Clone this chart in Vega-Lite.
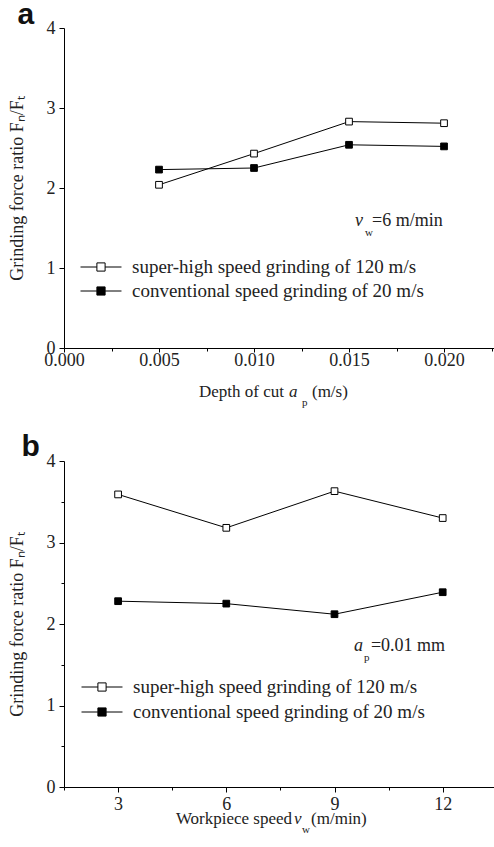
{
  "$schema": "https://vega.github.io/schema/vega-lite/v6.json",
  "padding": {"left": 8, "top": 0, "right": 0, "bottom": 0},
  "bounds": "flush",
  "spacing": 113,
  "config": {
    "view": {"stroke": null},
    "font": "Liberation Serif",
    "style": {"guide-label": {"font": "Liberation Serif"}, "guide-title": {"font": "Liberation Serif"}},
    "axis": {"domainColor": "#000", "tickColor": "#000", "labelColor": "#222", "titleColor": "#222", "labelFont": "Liberation Serif", "titleFont": "Liberation Serif", "labelFontSize": 18, "titleFontSize": 18, "titleFontWeight": "normal", "grid": false, "domainWidth": 1, "tickWidth": 1, "labelFlush": false, "labelOverlap": false}
  },
  "datasets": {
    "top": [
      {"x": 0.005, "y": 2.04, "series": "super-high speed grinding of 120 m/s"},
      {"x": 0.010, "y": 2.43, "series": "super-high speed grinding of 120 m/s"},
      {"x": 0.015, "y": 2.83, "series": "super-high speed grinding of 120 m/s"},
      {"x": 0.020, "y": 2.81, "series": "super-high speed grinding of 120 m/s"},
      {"x": 0.005, "y": 2.23, "series": "conventional speed grinding of 20 m/s"},
      {"x": 0.010, "y": 2.25, "series": "conventional speed grinding of 20 m/s"},
      {"x": 0.015, "y": 2.54, "series": "conventional speed grinding of 20 m/s"},
      {"x": 0.020, "y": 2.52, "series": "conventional speed grinding of 20 m/s"}
    ],
    "bottom": [
      {"x": 3, "y": 3.59, "series": "super-high speed grinding of 120 m/s"},
      {"x": 6, "y": 3.18, "series": "super-high speed grinding of 120 m/s"},
      {"x": 9, "y": 3.63, "series": "super-high speed grinding of 120 m/s"},
      {"x": 12, "y": 3.30, "series": "super-high speed grinding of 120 m/s"},
      {"x": 3, "y": 2.28, "series": "conventional speed grinding of 20 m/s"},
      {"x": 6, "y": 2.25, "series": "conventional speed grinding of 20 m/s"},
      {"x": 9, "y": 2.12, "series": "conventional speed grinding of 20 m/s"},
      {"x": 12, "y": 2.39, "series": "conventional speed grinding of 20 m/s"}
    ]
  },
  "resolve": {"scale": {"x": "independent", "y": "independent", "fill": "independent"}, "legend": {"fill": "independent"}},
  "vconcat": [
    {
      "width": 430,
      "height": 320,
      "data": {"name": "top"},
      "layer": [
        {
          "mark": {"type": "line", "color": "#000", "strokeWidth": 1},
          "encoding": {
            "x": {"field": "x", "type": "quantitative", "scale": {"domain": [0, 0.02263], "nice": false, "zero": false},
              "axis": {"values": [0, 0.0025, 0.005, 0.0075, 0.01, 0.0125, 0.015, 0.0175, 0.02, 0.0225],
                "labelExpr": "abs(datum.value*200 - round(datum.value*200)) > 0.01 ? '' : format(datum.value, '.3f')",
                "tickSize": {"condition": {"test": "abs(datum.value*200 - round(datum.value*200)) > 0.01", "value": 3}, "value": 4},
                "labelPadding": -1, "labelFont": "Liberation Serif", "labelFontSize": 18, "title": null}},
            "y": {"field": "y", "type": "quantitative", "scale": {"domain": [0, 4], "nice": false},
              "axis": {"values": [0, 0.5, 1, 1.5, 2, 2.5, 3, 3.5, 4],
                "labelExpr": "datum.value % 1 == 0 ? format(datum.value, 'd') : ''",
                "tickSize": {"condition": {"test": "datum.value % 1 != 0", "value": 3}, "value": 5},
                "labelPadding": 4, "labelFont": "Liberation Serif", "labelFontSize": 18, "title": "Grinding force ratio Fₙ/Fₜ", "titleFont": "Liberation Serif", "titlePadding": 20}},
            "detail": {"field": "series"}
          }
        },
        {
          "mark": {"type": "point", "shape": "square", "size": 45, "filled": true, "stroke": "#000", "strokeWidth": 1, "opacity": 1},
          "encoding": {
            "x": {"field": "x", "type": "quantitative"},
            "y": {"field": "y", "type": "quantitative"},
            "fill": {"field": "series", "type": "nominal",
              "scale": {"domain": ["super-high speed grinding of 120 m/s", "conventional speed grinding of 20 m/s"], "range": ["#ffffff", "#000000"]},
              "legend": {"orient": "none", "legendX": 26, "legendY": 228, "title": null, "direction": "vertical",
                "symbolType": "M-2,0H-0.4M0.4,0H2M-0.4,-0.4H0.4V0.4H-0.4Z", "symbolSize": 420, "symbolStrokeColor": "#000", "symbolStrokeWidth": 1,
                "labelFont": "Liberation Serif", "labelFontSize": 19, "labelColor": "#222", "labelOffset": 20, "rowPadding": 3, "padding": 0, "labelLimit": 400}}
          }
        },
        {"data": {"values": [{}]}, "mark": {"type": "text", "text": "a", "font": "Liberation Sans", "fontWeight": "bold", "fontSize": 30, "align": "left", "baseline": "alphabetic", "color": "#111"}, "encoding": {"x": {"datum": -0.00245}, "y": {"datum": 4.05}}},
        {"data": {"values": [{}]}, "mark": {"type": "text", "text": "v", "fontStyle": "italic", "fontSize": 18, "align": "left", "baseline": "alphabetic", "color": "#222"}, "encoding": {"x": {"datum": 0.01532}, "y": {"datum": 1.525}}},
        {"data": {"values": [{}]}, "mark": {"type": "text", "text": "w", "fontSize": 11, "align": "left", "baseline": "alphabetic", "color": "#222"}, "encoding": {"x": {"datum": 0.01584}, "y": {"datum": 1.40}}},
        {"data": {"values": [{}]}, "mark": {"type": "text", "text": "=6 m/min", "fontSize": 18, "align": "left", "baseline": "alphabetic", "color": "#222"}, "encoding": {"x": {"datum": 0.01621}, "y": {"datum": 1.525}}},
        {"data": {"values": [{}]}, "mark": {"type": "text", "text": "Depth of cut", "fontSize": 17, "align": "right", "baseline": "alphabetic", "color": "#222"}, "encoding": {"x": {"datum": 0.01158}, "y": {"datum": -0.6125}}},
        {"data": {"values": [{}]}, "mark": {"type": "text", "text": "a", "fontStyle": "italic", "fontSize": 17, "align": "left", "baseline": "alphabetic", "color": "#222"}, "encoding": {"x": {"datum": 0.01184}, "y": {"datum": -0.6125}}},
        {"data": {"values": [{}]}, "mark": {"type": "text", "text": "p", "fontSize": 11, "align": "left", "baseline": "alphabetic", "color": "#222"}, "encoding": {"x": {"datum": 0.01253}, "y": {"datum": -0.725}}},
        {"data": {"values": [{}]}, "mark": {"type": "text", "text": "(m/s)", "fontSize": 17, "align": "left", "baseline": "alphabetic", "color": "#222"}, "encoding": {"x": {"datum": 0.01305}, "y": {"datum": -0.6125}}}
      ]
    },
    {
      "width": 431,
      "height": 326,
      "data": {"name": "bottom"},
      "layer": [
        {
          "mark": {"type": "line", "color": "#000", "strokeWidth": 1},
          "encoding": {
            "x": {"field": "x", "type": "quantitative", "scale": {"domain": [1.5, 13.45], "nice": false, "zero": false},
              "axis": {"values": [1.5, 3, 4.5, 6, 7.5, 9, 10.5, 12, 13.5],
                "labelExpr": "datum.value % 3 != 0 ? '' : format(datum.value, 'd')",
                "tickSize": {"condition": {"test": "datum.value % 3 != 0", "value": 3}, "value": 5},
                "labelPadding": 3, "labelFont": "Liberation Serif", "labelFontSize": 18, "title": null}},
            "y": {"field": "y", "type": "quantitative", "scale": {"domain": [0, 4], "nice": false},
              "axis": {"values": [0, 0.5, 1, 1.5, 2, 2.5, 3, 3.5, 4],
                "labelExpr": "datum.value % 1 == 0 ? format(datum.value, 'd') : ''",
                "tickSize": {"condition": {"test": "datum.value % 1 != 0", "value": 3}, "value": 5},
                "labelPadding": 4, "labelFont": "Liberation Serif", "labelFontSize": 18, "title": "Grinding force ratio Fₙ/Fₜ", "titleFont": "Liberation Serif", "titlePadding": 20}},
            "detail": {"field": "series"}
          }
        },
        {
          "mark": {"type": "point", "shape": "square", "size": 45, "filled": true, "stroke": "#000", "strokeWidth": 1, "opacity": 1},
          "encoding": {
            "x": {"field": "x", "type": "quantitative"},
            "y": {"field": "y", "type": "quantitative"},
            "fill": {"field": "series", "type": "nominal",
              "scale": {"domain": ["super-high speed grinding of 120 m/s", "conventional speed grinding of 20 m/s"], "range": ["#ffffff", "#000000"]},
              "legend": {"orient": "none", "legendX": 27, "legendY": 215, "title": null, "direction": "vertical",
                "symbolType": "M-2,0H-0.4M0.4,0H2M-0.4,-0.4H0.4V0.4H-0.4Z", "symbolSize": 420, "symbolStrokeColor": "#000", "symbolStrokeWidth": 1,
                "labelFont": "Liberation Serif", "labelFontSize": 19, "labelColor": "#222", "labelOffset": 20, "rowPadding": 4, "padding": 0, "labelLimit": 400}}
          }
        },
        {"data": {"values": [{}]}, "mark": {"type": "text", "text": "b", "font": "Liberation Sans", "fontWeight": "bold", "fontSize": 30, "align": "left", "baseline": "alphabetic", "color": "#111"}, "encoding": {"x": {"datum": 0.32}, "y": {"datum": 4.058}}},
        {"data": {"values": [{}]}, "mark": {"type": "text", "text": "a", "fontStyle": "italic", "fontSize": 18, "align": "left", "baseline": "alphabetic", "color": "#222"}, "encoding": {"x": {"datum": 9.54}, "y": {"datum": 1.669}}},
        {"data": {"values": [{}]}, "mark": {"type": "text", "text": "p", "fontSize": 11, "align": "left", "baseline": "alphabetic", "color": "#222"}, "encoding": {"x": {"datum": 9.82}, "y": {"datum": 1.546}}},
        {"data": {"values": [{}]}, "mark": {"type": "text", "text": "=0.01 mm", "fontSize": 18, "align": "left", "baseline": "alphabetic", "color": "#222"}, "encoding": {"x": {"datum": 10.01}, "y": {"datum": 1.669}}},
        {"data": {"values": [{}]}, "mark": {"type": "text", "text": "Workpiece speed", "fontSize": 17, "align": "right", "baseline": "alphabetic", "color": "#222"}, "encoding": {"x": {"datum": 7.824}, "y": {"datum": -0.45}}},
        {"data": {"values": [{}]}, "mark": {"type": "text", "text": "v", "fontStyle": "italic", "fontSize": 17, "align": "left", "baseline": "alphabetic", "color": "#222"}, "encoding": {"x": {"datum": 7.88}, "y": {"datum": -0.45}}},
        {"data": {"values": [{}]}, "mark": {"type": "text", "text": "w", "fontSize": 11, "align": "left", "baseline": "alphabetic", "color": "#222"}, "encoding": {"x": {"datum": 8.10}, "y": {"datum": -0.56}}},
        {"data": {"values": [{}]}, "mark": {"type": "text", "text": "(m/min)", "fontSize": 17, "align": "left", "baseline": "alphabetic", "color": "#222"}, "encoding": {"x": {"datum": 8.35}, "y": {"datum": -0.45}}}
      ]
    }
  ]
}
